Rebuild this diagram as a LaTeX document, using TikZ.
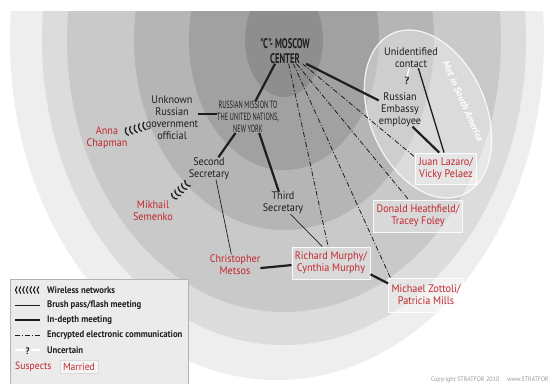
\documentclass[tikz,border=0pt]{standalone}
\usepackage{fontspec}
\setmainfont{PT Sans}[FakeStretch=0.93]
\newfontfamily\narrowfont{PT Sans}[FakeStretch=0.6]
\newfontfamily\headfont{PT Sans}[FakeStretch=0.62]
\newfontfamily\legfont{PT Sans}[FakeStretch=0.92]
\newfontfamily\metfont{PT Sans Bold}[FakeSlant=0.2]
\definecolor{ringA}{HTML}{8E8E8E}
\definecolor{ringB}{HTML}{A1A1A1}
\definecolor{ringC}{HTML}{B5B5B5}
\definecolor{ringD}{HTML}{C9C9C9}
\definecolor{ringE}{HTML}{DCDCDC}
\definecolor{ringF}{HTML}{EEEEEE}
\definecolor{txt}{HTML}{1E1E1E}
\definecolor{sred}{HTML}{C1272D}
\definecolor{legfill}{HTML}{EBEBEB}
\tikzset{
  lbl/.style={font=\fontsize{11}{12}\selectfont, text=txt, align=center, inner sep=0pt},
  sus/.style={lbl, text=sred},
  pairbox/.style={lbl, text=sred, fill=white, fill opacity=0.3, text opacity=1, draw=white, draw opacity=0.9, line width=0.8bp, inner xsep=3bp, inner ysep=4bp},
  heavy/.style={line width=2.2bp, draw=txt},
  light/.style={line width=0.7bp, draw=txt},
  medium/.style={line width=1.3bp, draw=txt},
  encrypted/.style={line width=0.8bp, draw=txt, dash pattern=on 5bp off 2bp on 1bp off 2bp},
  uncertain/.style={line width=1.3bp, draw=white},
  wave/.style={line width=1.3bp, draw=txt},
  legtext/.style={font=\legfont\bfseries\fontsize{9.5}{10}\selectfont, text=txt, anchor=west, inner sep=0pt},
}
\begin{document}
\begin{tikzpicture}[x=1bp,y=-1bp]
\useasboundingbox (0,0) rectangle (549,383);
\fill[white] (0,0) rectangle (549,383);
% concentric rings
\fill[ringF] (277,40) ellipse [x radius=267bp, y radius=340bp];
\fill[ringE] (284,40) ellipse [x radius=242bp, y radius=305bp];
\fill[ringD] (284,40) ellipse [x radius=217bp, y radius=272bp];
\fill[ringC] (284,40) ellipse [x radius=150bp, y radius=190bp];
\fill[ringB] (284,40) ellipse [x radius=95bp, y radius=130bp];
\fill[ringA] (284,40) ellipse [x radius=39bp, y radius=57bp];
\fill[white] (0,0) rectangle (549,11);
% South America ellipse
\begin{scope}[shift={(428,114)}, rotate=-66.6]
\fill[white, opacity=0.35] (0,0) ellipse [x radius=88bp, y radius=58bp];
\draw[white, opacity=0.85, line width=1.2bp] (0,0) ellipse [x radius=88bp, y radius=58bp];
\end{scope}
\node[rotate=-66, font=\metfont\fontsize{9.5}{10}\selectfont, text=white, inner sep=0pt] (met) at (463,101) {Met in South America};

% nodes
\node[lbl, font=\headfont\bfseries\fontsize{14}{15}\selectfont] (cmc) at (285,51) {"C"- MOSCOW\\CENTER};
\node[lbl, font=\narrowfont\fontsize{10.5}{12}\selectfont] (mission) at (248,117) {RUSSIAN MISSION TO\\THE UNITED NATIONS,\\NEW YORK};
\node[lbl] (unknown) at (172,118) {Unknown\\Russian\\government\\official};
\node[sus] (anna) at (107,137.5) {Anna\\Chapman};
\node[lbl] (second) at (209,168.5) {Second\\Secretary};
\node[lbl] (third) at (283,203) {Third\\Secretary};
\node[sus] (mikhail) at (153,211) {Mikhail\\Semenko};
\node[sus] (metsos) at (235,264.5) {Christopher\\Metsos};
\node[pairbox, minimum width=78bp, minimum height=32bp] (richard) at (331,263) {Richard Murphy/\\Cynthia Murphy};
\node[pairbox, minimum width=75bp, minimum height=34bp] (michael) at (426,295) {Michael Zottoli/\\Patricia Mills};
\node[pairbox, minimum width=89bp, minimum height=32bp] (donald) at (418,216) {Donald Heathfield/\\Tracey Foley};
\node[pairbox, minimum width=61bp, minimum height=31bp] (juan) at (446,168.5) {Juan Lazaro/\\Vicky Pelaez};
\node[lbl] (unident) at (411,58) {Unidentified\\contact};
\node[lbl, font=\bfseries\fontsize{11}{12}\selectfont] (qmark) at (407,81) {?};
\node[lbl] (embassy) at (400,109.5) {Russian\\Embassy\\employee};

% connectors
\draw[heavy] (cmc.232.6) -- (mission.65.6);
\draw[heavy] (unknown.9) -- (unknown.9 -| mission.west);
\draw[heavy] (mission.232) -- (second.50);
\draw[heavy] (mission.305.5) -- (third.110.6);
\draw[light] (second.302) -- (metsos.110);
\draw[light] (third.304) -- (richard.118);
\draw[heavy] (metsos.-8) -- (richard.183);
\draw[heavy] (richard.-16.7) -- (michael.163.9);
\draw[heavy] (cmc.-31.4) -- (embassy.157);
\draw[heavy] (embassy.-54.9) -- (juan.113);
\draw[medium] (unident.-54.5) -- (juan.97);
\draw[uncertain] (unident.-100) -- (qmark.north);
\draw[encrypted] (cmc.-74) -- (richard.100.6);
\draw[encrypted] (cmc.-57.7) -- (michael.154);
\draw[encrypted] (cmc.-48) -- (donald.120.5);
\draw[encrypted] (cmc.-36.5) -- (juan.160.7);

% wireless links
\path (anna) -- coordinate[pos=0.42] (annawl) (unknown);
\begin{scope}[shift={(annawl)}, rotate=17]
\foreach \i in {-2,...,2}
  \draw[wave] (\i*4.6+1.2,-4.2) .. controls (\i*4.6-1.6,-2) and (\i*4.6-1.6,2) .. (\i*4.6+1.2,4.2);
\end{scope}
\path (mikhail) -- coordinate[pos=0.5] (mikwl) (second);
\begin{scope}[shift={(mikwl)}, rotate=44]
\foreach \i in {-2,...,2}
  \draw[wave] (\i*4.6+1.2,-4.2) .. controls (\i*4.6-1.6,-2) and (\i*4.6-1.6,2) .. (\i*4.6+1.2,4.2);
\end{scope}

% legend
\draw[draw=gray!60, fill=legfill, line width=0.8bp] (10,279) rectangle (188,385);
\coordinate (lgw) at (27,290);
\begin{scope}[shift={(lgw)}]
\foreach \i in {-3,...,3}
  \draw[wave, line width=1.1bp] (\i*3.6+1,-3.6) .. controls (\i*3.6-1.3,-1.7) and (\i*3.6-1.3,1.7) .. (\i*3.6+1,3.6);
\end{scope}
\node[legtext] (lt1) at (47,290) {Wireless networks};
\coordinate (la2) at (15,305); \coordinate (lb2) at (40,305);
\draw[light] (la2) -- (lb2);
\node[legtext] (lt2) at (47,305) {Brush pass/flash meeting};
\coordinate (la3) at (15,320); \coordinate (lb3) at (40,320);
\draw[heavy] (la3) -- (lb3);
\node[legtext] (lt3) at (47,320) {In-depth meeting};
\coordinate (la4) at (15,335); \coordinate (lb4) at (40,335);
\draw[encrypted] (la4) -- (lb4);
\node[legtext] (lt4) at (47,335) {Encrypted electronic communication};
\coordinate (la5) at (15,350); \coordinate (lb5) at (40,350);
\draw[uncertain] (la5) -- (lb5);
\node[lbl, font=\legfont\bfseries\fontsize{9.5}{10}\selectfont, fill=legfill, inner xsep=1bp] (lq) at (27.5,351) {?};
\node[legtext] (lt5) at (47,350) {Uncertain};
\node[sus, font=\fontsize{10.5}{11}\selectfont, anchor=west] (lsus) at (15,367) {Suspects};
\node[pairbox, font=\fontsize{10.5}{11}\selectfont, fill=white, fill opacity=0.5, draw=white!85!black, inner xsep=3bp, inner ysep=3bp] (lmar) at (79,367) {Married};

\node[font=\fontsize{6.5}{7}\selectfont, text=gray!80, anchor=east, inner sep=0pt] (copy) at (549,380) {Copyright STRATFOR 2010 \quad www.STRATFOR};
\end{tikzpicture}
\end{document}
